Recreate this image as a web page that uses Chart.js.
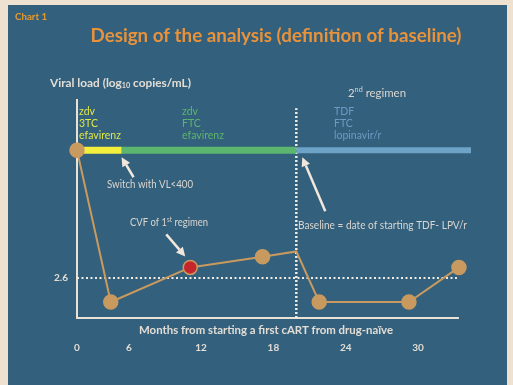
<!DOCTYPE html>
<html>
<head>
<meta charset="utf-8">
<script src="https://cdn.jsdelivr.net/npm/chart.js@4/dist/chart.umd.min.js"></script>
<style>
  html, body { margin: 0; padding: 0; background: #efe1cf; }
  #wrap { width: 513px; height: 385px; position: relative; }
  canvas { display: block; }
</style>
</head>
<body>
<div id="wrap"><canvas id="chart" width="513" height="385"></canvas></div>
<script>
// Time axis (months from starting first cART); the axis origin is labelled "0"
const AXIS_START = 1.7;
const AXIS_END = 33.4;
const BAR_END = 34.4;
const xTickValues = [AXIS_START, 6, 12, 18, 24, 30];
const xTickLabels = ['0', '6', '12', '18', '24', '30'];

// Viral load course (log10 copies/mL)
const visitMonths = [AXIS_START, 4.5, 11.1, 17.1, 19.9, 21.8, 29.25, 33.4];
const viralLoad   = [5.0, 2.15, 2.8, 3.0, 3.1, 2.15, 2.15, 2.8];
const showMarker  = [true, true, true, true, false, true, true, true];
const cvfIndex = 2;

// Regimen timeline
const BAR_LEVEL = 5.0;
const switchMonth = 5.4;
const baselineMonth = 19.9;
const firstRegimenDrugs  = ['zdv', '3TC', 'efavirenz'];
const switchedDrugs      = ['zdv', 'FTC', 'efavirenz'];
const secondRegimenDrugs = ['TDF', 'FTC', 'lopinavir/r'];

// Threshold
const THRESHOLD = 2.6;
const yTickValues = [THRESHOLD];
const Y_MIN = 1.85, Y_MAX = 6.0, BASELINE_TOP = 5.79;

const FONT = 'Lato, "Open Sans", "Noto Sans", sans-serif';
const C = {
  cream: '#efe1cf', panel: '#33607d', light: '#e2ddd5', text: '#d9d5cf',
  orange: '#e8923b', tan: '#c99a5f', red: '#c4262c',
  yellow: '#f4ee3c', yellowText: '#dfe648', green: '#5cb66f', greenText: '#5db56c',
  blue: '#6ea3c8', blueText: '#6d9bc2', dots: '#f0ebe3', arrow: '#f1e7dc'
};

// draw a sequence of text runs (for super/subscripts), optionally condensed to a width
function runs(ctx, parts, x, y, color, align, width) {
  ctx.save();
  ctx.fillStyle = color;
  ctx.textBaseline = 'middle';
  ctx.textAlign = 'left';
  let total = 0;
  const ws = parts.map(p => { ctx.font = p.font; const w = ctx.measureText(p.t).width; total += w; return w; });
  const sx = width ? width / total : 1;
  let x0 = x;
  if (align === 'center') x0 = x - total * sx / 2;
  if (align === 'right') x0 = x - total * sx;
  ctx.translate(x0, y);
  ctx.scale(sx, 1);
  let cx = 0;
  parts.forEach((p, i) => { ctx.font = p.font; ctx.fillText(p.t, cx, p.dy || 0); cx += ws[i]; });
  ctx.restore();
}
function text(ctx, t, x, y, font, color, align, width) {
  runs(ctx, [{ t, font }], x, y, color, align, width);
}

function arrow(ctx, x1, y1, x2, y2) {
  const ang = Math.atan2(y2 - y1, x2 - x1);
  const hl = 9, hw = 4.5;
  const bx = x2 - hl * Math.cos(ang), by = y2 - hl * Math.sin(ang);
  ctx.save();
  ctx.strokeStyle = C.arrow; ctx.fillStyle = C.arrow;
  ctx.lineWidth = 2.5;
  ctx.beginPath(); ctx.moveTo(x1, y1); ctx.lineTo(bx, by); ctx.stroke();
  ctx.beginPath();
  ctx.moveTo(x2, y2);
  ctx.lineTo(bx + hw * Math.sin(ang), by - hw * Math.cos(ang));
  ctx.lineTo(bx - hw * Math.sin(ang), by + hw * Math.cos(ang));
  ctx.closePath(); ctx.fill();
  ctx.restore();
}

const decor = {
  id: 'decor',
  beforeDraw(chart) {
    const ctx = chart.ctx;
    ctx.save();
    ctx.fillStyle = C.cream; ctx.fillRect(0, 0, chart.width, chart.height);
    ctx.fillStyle = C.panel; ctx.fillRect(8, 5, 499, chart.height - 5);
    ctx.restore();
  },
  beforeDatasetsDraw(chart) {
    const ctx = chart.ctx, xs = chart.scales.x, ys = chart.scales.y;
    const x0 = xs.getPixelForValue(AXIS_START), x1 = xs.getPixelForValue(AXIS_END);
    const yb = ys.getPixelForValue(Y_MIN), yt = chart.chartArea.top + 2;
    ctx.save();
    ctx.strokeStyle = '#e9e2d6'; ctx.lineWidth = 2;
    ctx.beginPath(); ctx.moveTo(x0, yt); ctx.lineTo(x0, yb); ctx.lineTo(x1, yb); ctx.stroke();
    ctx.restore();
  },
  afterDraw(chart) {
    const ctx = chart.ctx, xs = chart.scales.x, ys = chart.scales.y;
    const px = v => xs.getPixelForValue(v), py = v => ys.getPixelForValue(v);

    text(ctx, 'Chart 1', 15, 17, 'bold 10px ' + FONT, '#e89a2c', 'left', 32);
    text(ctx, 'Design of the analysis (definition of baseline)', 276, 36, 'bold 18px ' + FONT, C.orange, 'center', 371);

    runs(ctx, [
      { t: 'Viral load (log', font: 'bold 11.5px ' + FONT },
      { t: '10', font: 'bold 7px ' + FONT, dy: 3 },
      { t: ' copies/mL)', font: 'bold 11.5px ' + FONT }
    ], 50, 83, C.light, 'left', 141);

    runs(ctx, [
      { t: '2', font: '11px ' + FONT },
      { t: 'nd', font: '7px ' + FONT, dy: -3 },
      { t: ' regimen', font: '11px ' + FONT }
    ], 348, 93, C.text, 'left', 58);

    const rows = [112, 124, 136];
    firstRegimenDrugs.forEach((d, i) => text(ctx, d, 79, rows[i], '10.5px ' + FONT, C.yellowText, 'left'));
    switchedDrugs.forEach((d, i) => text(ctx, d, 182, rows[i], '10.5px ' + FONT, C.greenText, 'left'));
    secondRegimenDrugs.forEach((d, i) => text(ctx, d, 334, rows[i], '10.5px ' + FONT, C.blueText, 'left'));

    // switch to the FTC-based regimen
    const sx = px(switchMonth), sy = py(BAR_LEVEL);
    arrow(ctx, sx + 12, sy + 27, sx, sy + 7);
    text(ctx, 'Switch with VL<400', 150, 185, '10.5px ' + FONT, C.text, 'center', 86);

    // confirmed virological failure
    const cx = px(visitMonths[cvfIndex]), cy = py(viralLoad[cvfIndex]);
    arrow(ctx, cx - 24, cy - 33, cx - 5, cy - 11);
    runs(ctx, [
      { t: 'CVF of 1', font: '10.5px ' + FONT },
      { t: 'st', font: '7px ' + FONT, dy: -3 },
      { t: ' regimen', font: '10.5px ' + FONT }
    ], 169, 223, C.text, 'center', 78);

    // baseline
    const bx = px(baselineMonth), by = py(BAR_LEVEL);
    arrow(ctx, bx + 29, by + 61, bx + 6, by + 7);
    text(ctx, 'Baseline = date of starting TDF- LPV/r', 298, 226, '10.5px ' + FONT, C.text, 'left', 169);

    text(ctx, 'Months from starting a first cART from drug-na\u00efve', 266, 330, 'bold 11px ' + FONT, C.light, 'center', 254);
  }
};

const seg = (a, b, y) => [{ x: a, y }, { x: b, y }];

new Chart(document.getElementById('chart'), {
  type: 'line',
  data: {
    datasets: [
      {
        data: visitMonths.map((m, i) => ({ x: m, y: viralLoad[i] })),
        borderColor: C.tan, borderWidth: 2, tension: 0,
        pointRadius: showMarker.map(s => s ? 7 : 0),
        pointBackgroundColor: visitMonths.map((_, i) => i === cvfIndex ? C.red : C.tan),
        pointBorderColor: C.tan, pointBorderWidth: 1.5,
        clip: false
      },
      { data: seg(AXIS_START, switchMonth, BAR_LEVEL), borderColor: C.yellow, borderWidth: 7, pointRadius: 0, borderCapStyle: 'butt', clip: false },
      { data: seg(switchMonth, baselineMonth, BAR_LEVEL), borderColor: C.green, borderWidth: 7, pointRadius: 0, borderCapStyle: 'butt', clip: false },
      { data: seg(baselineMonth, BAR_END, BAR_LEVEL), borderColor: C.blue, borderWidth: 6, pointRadius: 0, borderCapStyle: 'butt', clip: false },
      { data: seg(AXIS_START, AXIS_END, THRESHOLD), borderColor: C.dots, borderWidth: 2, borderDash: [2, 2.5], pointRadius: 0, clip: false },
      { data: [{ x: baselineMonth, y: Y_MIN }, { x: baselineMonth, y: BASELINE_TOP }], borderColor: C.dots, borderWidth: 2.5, borderDash: [2, 2], pointRadius: 0, clip: false }
    ]
  },
  options: {
    responsive: false,
    animation: false,
    events: [],
    layout: { padding: { top: 97, right: 42, bottom: 0, left: 0 } },
    plugins: { legend: { display: false }, tooltip: { enabled: false } },
    scales: {
      x: {
        type: 'linear', min: AXIS_START, max: BAR_END,
        afterBuildTicks: s => { s.ticks = xTickValues.map(v => ({ value: v })); },
        afterFit: s => { s.height = 67; },
        ticks: {
          callback: (v, i) => xTickLabels[i], autoSkip: false, maxRotation: 0,
          padding: 24, color: C.light, font: { family: FONT, size: 10, weight: 'bold' }
        },
        grid: { display: false, drawTicks: false },
        border: { display: false }
      },
      y: {
        min: Y_MIN, max: Y_MAX,
        afterBuildTicks: s => { s.ticks = yTickValues.map(v => ({ value: v })); },
        afterFit: s => { s.width = 77; },
        ticks: {
          callback: v => v.toFixed(1), padding: 9, color: C.light,
          font: { family: FONT, size: 10, weight: 'bold' }
        },
        grid: { display: false, drawTicks: false },
        border: { display: false }
      }
    }
  },
  plugins: [decor]
});
</script>
</body>
</html>
